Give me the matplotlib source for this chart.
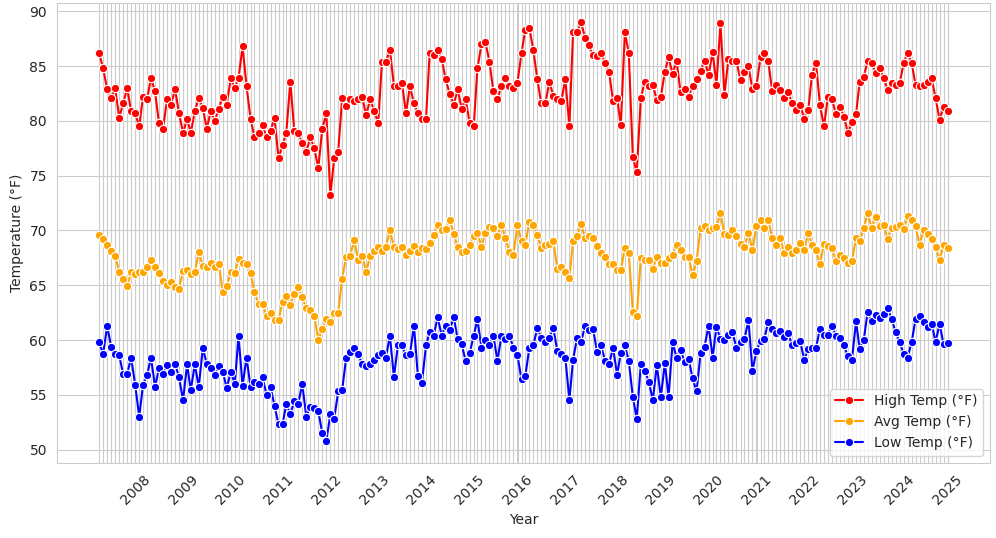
import matplotlib
matplotlib.use("Agg")
import matplotlib.pyplot as plt
import matplotlib.dates as mdates
import pandas as pd
import seaborn as sns

# monthly readings, Mar 2007 - Dec 2024
high_temp = [
    86.2, 84.8, 82.9, 82.1, 83.0, 80.3, 81.6, 83.0, 80.9, 80.7, 79.5, 82.2, 82.0, 83.9, 82.7, 79.8, 79.3, 82.0,
    81.5, 82.9, 80.7, 78.9, 80.2, 78.9, 80.9, 82.1, 81.2, 79.3, 80.9, 80.0, 81.1, 82.2, 81.5, 83.9, 83.0, 83.9,
    86.8, 83.2, 80.2, 78.5, 78.9, 79.6, 78.5, 79.1, 80.3, 76.6, 77.8, 78.9, 83.6, 79.1, 78.9, 78.0, 77.2, 78.5,
    77.5, 75.7, 79.3, 80.7, 73.2, 76.6, 77.2, 82.1, 81.4, 82.0, 81.8, 82.0, 82.2, 80.5, 82.0, 80.9, 79.8, 85.4, 85.4,
    86.5, 83.2, 83.2, 83.5, 80.7, 83.2, 81.6, 80.7, 80.2, 80.2, 86.2, 86.0, 86.5, 85.7, 83.8, 82.5, 81.5, 82.9,
    81.1, 82.0, 79.8, 79.5, 84.8, 87.0, 87.2, 85.4, 82.7, 82.0, 83.2, 83.9, 83.2, 83.0, 83.5, 86.2, 88.3, 88.5, 86.5,
    83.8, 81.6, 81.6, 83.6, 82.3, 82.0, 81.8, 83.8, 79.5, 88.1, 88.1, 89.0, 87.6, 86.9, 86.0, 85.9, 86.2, 85.3,
    84.5, 81.8, 82.1, 79.6, 88.1, 86.2, 76.7, 75.3, 82.1, 83.6, 83.2, 83.3, 81.9, 82.2, 84.5, 85.8, 84.3, 85.5, 82.6,
    82.9, 82.2, 83.2, 83.8, 84.6, 85.5, 84.2, 86.3, 83.3, 88.9, 82.4, 85.7, 85.5, 85.5, 83.7, 84.5, 85.0, 82.9,
    83.2, 85.8, 86.2, 85.5, 82.7, 83.3, 82.8, 82.1, 82.6, 81.6, 81.0, 81.5, 80.2, 81.0, 84.2, 85.3, 81.5, 79.5,
    82.2, 82.0, 80.6, 81.3, 80.4, 78.9, 79.9, 80.6, 83.6, 84.0, 85.5, 85.3, 84.4, 84.8, 83.9, 82.8, 83.5, 83.3,
    83.5, 85.3, 86.2, 85.3, 83.3, 83.2, 83.3, 83.6, 83.9, 82.1, 80.1, 81.3, 80.9,
]
avg_temp = [
    69.6, 69.2, 68.7, 68.1, 67.7, 66.2, 65.6, 64.9, 66.2, 66.0, 66.2, 66.2, 66.7, 67.3, 66.7, 66.1, 65.4, 65.0,
    65.3, 64.8, 64.7, 66.3, 66.4, 66.0, 66.2, 68.0, 66.8, 66.7, 67.0, 66.7, 66.9, 64.4, 64.9, 66.2, 66.1, 67.4,
    67.0, 66.9, 66.1, 64.4, 63.3, 63.3, 62.2, 62.5, 61.8, 61.8, 63.5, 64.0, 63.2, 64.2, 64.8, 63.9, 62.9, 62.7,
    62.2, 60.0, 61.0, 61.9, 61.6, 62.5, 62.5, 65.6, 67.6, 67.7, 69.1, 67.3, 67.7, 66.2, 67.7, 68.1, 68.5, 68.1, 68.5,
    70.0, 68.5, 68.3, 68.5, 67.8, 68.1, 68.6, 68.0, 68.4, 68.3, 68.9, 69.6, 70.5, 70.0, 70.1, 71.0, 69.7, 68.5,
    68.0, 68.1, 68.7, 69.5, 69.8, 68.5, 69.8, 70.3, 70.2, 69.5, 70.5, 69.3, 68.0, 67.8, 70.5, 69.0, 68.7, 70.8, 70.5,
    69.6, 68.4, 68.7, 68.8, 69.0, 66.5, 66.7, 66.2, 65.7, 69.0, 69.5, 70.6, 69.3, 69.5, 69.3, 68.6, 67.9, 67.6,
    66.9, 66.9, 66.4, 66.4, 68.4, 67.9, 62.6, 62.2, 67.5, 67.3, 67.3, 66.5, 67.6, 67.0, 67.0, 67.5, 67.8, 68.7, 68.2,
    67.6, 67.6, 65.9, 67.2, 70.2, 70.4, 70.0, 70.2, 70.3, 71.6, 69.7, 69.6, 70.0, 69.5, 68.8, 68.5, 69.8, 68.2,
    70.4, 71.0, 70.2, 71.0, 69.3, 68.7, 69.3, 67.9, 68.5, 67.9, 68.2, 68.9, 68.2, 69.8, 68.7, 68.2, 66.9, 68.8,
    68.6, 68.4, 67.2, 67.8, 67.5, 67.0, 67.2, 69.3, 69.0, 70.2, 71.6, 70.2, 71.2, 70.4, 70.5, 69.2, 70.2, 70.3,
    70.5, 70.1, 71.3, 71.0, 70.4, 68.7, 70.0, 69.7, 69.2, 68.5, 67.3, 68.7, 68.4,
]
low_temp = [
    59.8, 58.7, 61.3, 59.4, 58.7, 58.6, 56.9, 56.9, 58.4, 55.9, 53.0, 55.9, 56.8, 58.4, 55.7, 57.4, 56.9, 57.7,
    57.1, 57.8, 56.6, 54.5, 57.8, 55.4, 57.8, 55.7, 59.3, 57.8, 57.4, 56.8, 57.6, 57.1, 55.6, 57.1, 56.0, 60.4,
    55.8, 58.4, 55.7, 56.2, 56.0, 56.6, 55.0, 55.7, 54.0, 52.3, 52.3, 54.2, 53.2, 54.4, 54.2, 56.0, 53.0, 53.9,
    53.8, 53.5, 51.5, 50.8, 53.2, 52.8, 55.3, 55.4, 58.4, 58.9, 59.3, 58.7, 57.8, 57.6, 57.8, 58.2, 58.6, 58.8, 58.4,
    60.4, 56.6, 59.5, 59.5, 58.6, 58.7, 61.3, 56.7, 56.1, 59.5, 60.7, 60.4, 62.1, 60.4, 61.3, 60.9, 62.1, 60.1,
    59.6, 58.1, 58.8, 60.4, 61.9, 59.3, 60.0, 59.5, 60.4, 58.1, 60.4, 60.1, 60.4, 59.3, 58.6, 56.4, 56.7, 59.3, 59.5,
    61.1, 60.2, 59.8, 60.2, 61.1, 59.0, 58.7, 58.4, 54.5, 58.2, 60.2, 59.8, 61.3, 60.9, 61.0, 58.9, 59.5, 58.1,
    57.8, 59.3, 56.8, 58.8, 59.5, 58.1, 54.8, 52.8, 57.8, 57.2, 56.2, 54.5, 57.7, 54.8, 57.9, 54.8, 59.8, 58.4, 59.1,
    58.0, 58.3, 56.5, 55.3, 58.8, 59.4, 61.3, 58.4, 61.2, 60.1, 60.0, 60.5, 60.7, 59.3, 59.8, 60.1, 61.8, 57.2,
    59.0, 59.9, 60.1, 61.6, 61.0, 60.6, 60.8, 60.3, 60.6, 59.5, 59.7, 59.9, 58.2, 59.2, 59.3, 59.3, 61.0, 60.5,
    60.5, 61.3, 60.4, 60.2, 59.5, 58.5, 58.2, 61.7, 59.2, 60.0, 62.6, 61.7, 62.3, 62.0, 62.4, 62.9, 61.9, 60.7,
    59.8, 58.7, 58.4, 59.8, 61.9, 62.2, 61.6, 61.2, 61.5, 59.8, 61.5, 59.6, 59.7,
]
tick_years = list(range(2008, 2026))
dates = pd.date_range(end="2024-12-31", periods=len(high_temp), freq="ME")

sns.set_style("whitegrid")
fig, ax = plt.subplots(figsize=(9.96, 5.38), dpi=100)

ax.plot(dates, high_temp, color="red", marker="o", markersize=6, markeredgecolor="white",
        markeredgewidth=0.8, linewidth=1.5, label="High Temp (°F)")
ax.plot(dates, avg_temp, color="orange", marker="o", markersize=6, markeredgecolor="white",
        markeredgewidth=0.8, linewidth=1.5, label="Avg Temp (°F)")
ax.plot(dates, low_temp, color="blue", marker="o", markersize=6, markeredgecolor="white",
        markeredgewidth=0.8, linewidth=1.5, label="Low Temp (°F)")

# one vertical grid line per month, year labels on major ticks
ax.set_xticks(dates, minor=True)
ax.set_xticks(pd.to_datetime([f"{y}-01-01" for y in tick_years]))
ax.xaxis.set_major_formatter(mdates.DateFormatter("%Y"))
ax.grid(True, which="both", color="#cccccc", linewidth=0.8)
ax.tick_params(axis="x", which="minor", length=0)
plt.setp(ax.get_xticklabels(), rotation=45)

ax.set_ylim(48.8, 90.8)
ax.set_xlabel("Year")
ax.set_ylabel("Temperature (°F)")
ax.legend(loc="lower right")

plt.subplots_adjust(left=0.057, right=0.994, top=0.995, bottom=0.14)
plt.savefig("out.png")
